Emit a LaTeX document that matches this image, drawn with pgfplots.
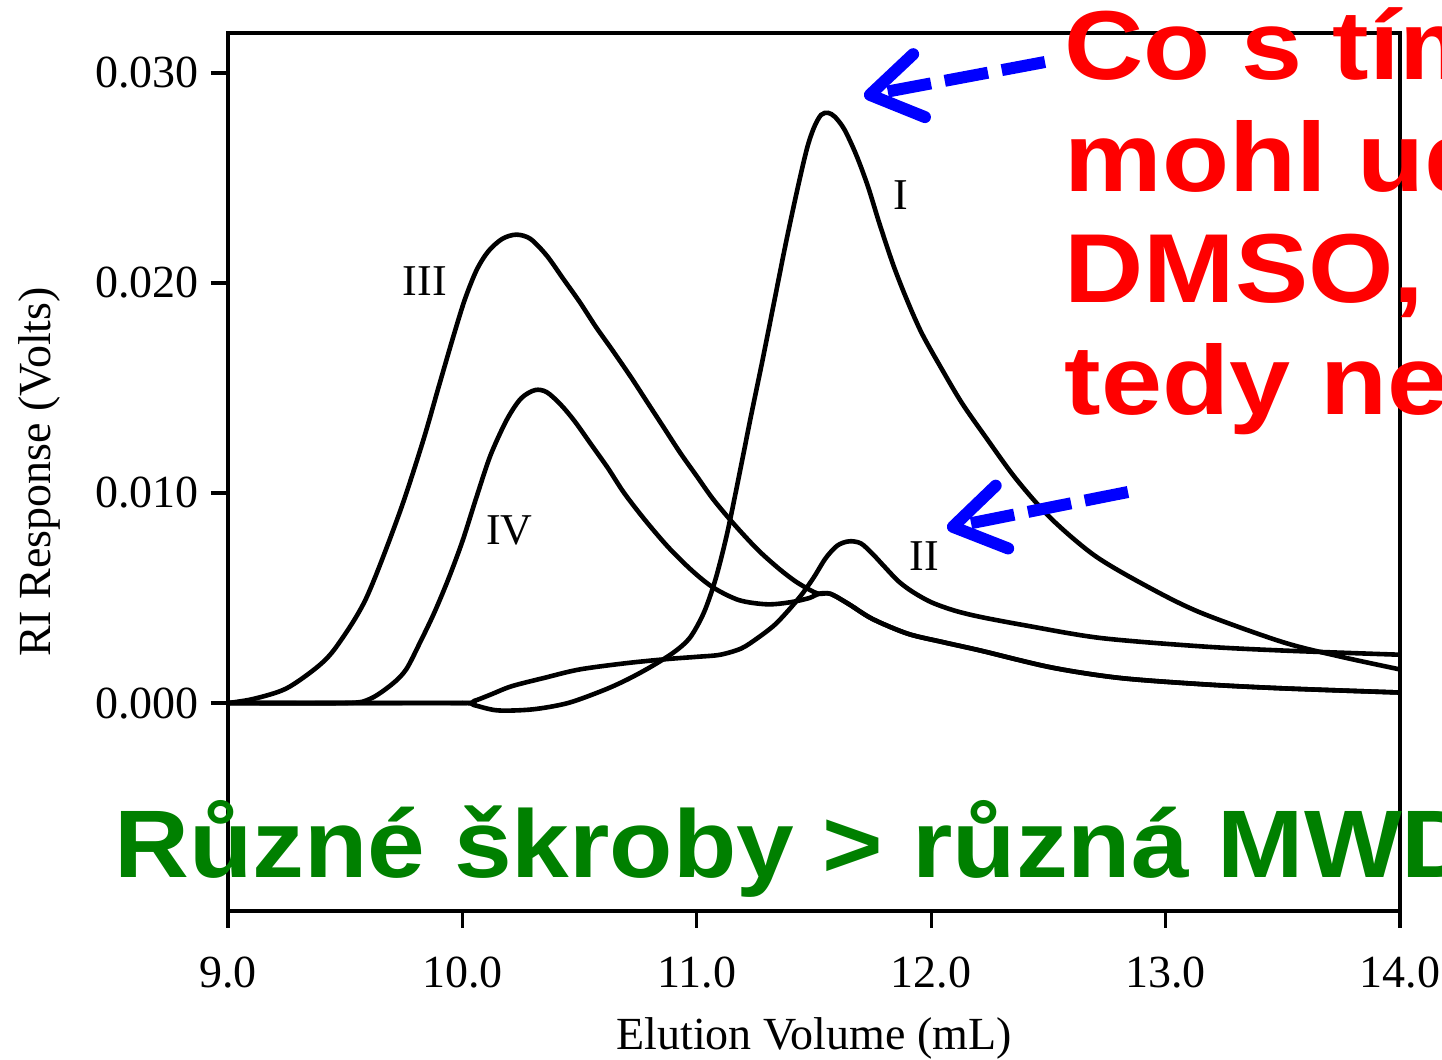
\documentclass[border=0pt]{standalone}
\usepackage{fontspec}
\setmainfont{Liberation Serif}
\newfontfamily\ovfont{Liberation Sans}
\usepackage{pgfplots}
\pgfplotsset{compat=1.18}
\usetikzlibrary{arrows.meta}
\definecolor{ovred}{RGB}{255,0,0}
\definecolor{ovgreen}{RGB}{0,128,0}
\definecolor{ovblue}{RGB}{0,0,255}

\pgfplotstableread{
x y
9.00 0
9.50 0
10.00 0
10.05 -0.0001
10.15 -0.00035
10.30 -0.0003
10.45 0.0000
10.60 0.0006
10.70 0.0011
10.80 0.0017
10.90 0.0024
10.97 0.0031
11.03 0.0043
11.08 0.0059
11.13 0.0081
11.18 0.0108
11.23 0.0136
11.28 0.0163
11.33 0.0191
11.38 0.0219
11.43 0.0245
11.47 0.0264
11.50 0.0274
11.53 0.0280
11.56 0.0281
11.59 0.0279
11.63 0.0273
11.68 0.0261
11.73 0.0246
11.78 0.0228
11.84 0.0208
11.90 0.0191
11.96 0.0176
12.04 0.0160
12.13 0.0143
12.23 0.0127
12.36 0.0107
12.51 0.0088
12.70 0.0070
12.93 0.0055
13.15 0.0043
13.50 0.0029
13.75 0.0022
14.00 0.0016
}\curveI

\pgfplotstableread{
x y
9.00 0
9.50 0
10.00 0
10.05 0.0001
10.12 0.0004
10.21 0.0008
10.35 0.0012
10.50 0.0016
10.70 0.0019
10.88 0.0021
11.00 0.0022
11.10 0.0023
11.19 0.0026
11.26 0.0031
11.33 0.0037
11.39 0.0044
11.45 0.0052
11.50 0.0060
11.55 0.0069
11.60 0.0075
11.65 0.0077
11.70 0.0076
11.75 0.0071
11.80 0.0065
11.86 0.0058
11.92 0.0053
12.00 0.0048
12.10 0.0044
12.21 0.0041
12.40 0.0037
12.72 0.0031
13.15 0.0027
13.50 0.0025
14.00 0.0023
}\curveII

\pgfplotstableread{
x y
9.00 0
9.11 0.0002
9.25 0.0007
9.39 0.0018
9.47 0.0028
9.59 0.0050
9.73 0.0090
9.83 0.0124
9.90 0.0151
9.96 0.0174
10.01 0.0192
10.06 0.0206
10.11 0.0215
10.17 0.0221
10.23 0.0223
10.29 0.0221
10.36 0.0213
10.43 0.0202
10.50 0.0191
10.57 0.0179
10.64 0.0168
10.72 0.0155
10.79 0.0143
10.86 0.0131
10.93 0.0119
11.00 0.0108
11.07 0.0097
11.16 0.0085
11.26 0.0073
11.35 0.0064
11.42 0.0058
11.48 0.0054
11.52 0.0052
11.57 0.0052
11.65 0.0047
11.75 0.0040
11.90 0.0033
12.05 0.0029
12.21 0.0025
12.51 0.0017
12.80 0.0012
13.15 0.0009
13.50 0.0007
14.00 0.0005
}\curveIII

\pgfplotstableread{
x y
9.00 0
9.50 0
9.606 0.0002
9.70 0.0009
9.76 0.0016
9.82 0.0029
9.88 0.0043
9.94 0.0059
10.00 0.0077
10.06 0.0098
10.12 0.0118
10.19 0.0135
10.25 0.0145
10.31 0.0149
10.36 0.0148
10.42 0.0142
10.48 0.0134
10.55 0.0123
10.62 0.0112
10.69 0.0100
10.78 0.0087
10.88 0.0074
10.98 0.0063
11.07 0.0055
11.18 0.0049
11.30 0.0047
11.40 0.0048
11.48 0.0050
11.52 0.0052
11.57 0.0052
11.65 0.0047
11.75 0.0040
11.90 0.0033
12.05 0.0029
12.21 0.0025
12.51 0.0017
12.80 0.0012
13.15 0.0009
13.50 0.0007
14.00 0.0005
}\curveIV

\begin{document}
\begin{tikzpicture}
\path[use as bounding box] (0,0) rectangle (721pt,530pt);
\begin{axis}[
  at={(114pt,74.5pt)}, anchor=south west,
  scale only axis, width=586pt, height=439pt,
  xmin=9, xmax=14, ymin=-0.0099, ymax=0.0319,
  xtick={9,10,11,12,13,14},
  xticklabels={9.0,10.0,11.0,12.0,13.0,14.0},
  ytick={0,0.01,0.02,0.03},
  yticklabels={0.000,0.010,0.020,0.030},
  scaled y ticks=false,
  tick pos=left, tick align=outside,
  major tick length=8.5pt,
  every tick/.style={black, line width=1.6pt},
  axis line style={line width=1.6pt},
  tick label style={font=\fontsize{23}{27}\selectfont, inner sep=0pt},
  xticklabel style={anchor=base, yshift=-30pt},
  yticklabel style={anchor=east, xshift=-6pt},
  label style={font=\fontsize{23}{27}\selectfont},
  xlabel={Elution Volume (mL)},
  ylabel={RI Response (Volts)},
  xlabel style={at={(axis description cs:0.5,0)}, anchor=base, yshift=-69.5pt, inner sep=0pt},
  ylabel style={at={(axis description cs:-0.161,0.5)}, anchor=center, inner sep=0pt},
  no markers,
]
\addplot[black, line width=2.3pt, smooth, tension=0.5] table[x=x,y=y] {\curveIV};
\addplot[black, line width=2.3pt, smooth, tension=0.5] table[x=x,y=y] {\curveIII};
\addplot[black, line width=2.3pt, smooth, tension=0.5] table[x=x,y=y] {\curveII};
\addplot[black, line width=2.3pt, smooth, tension=0.5] table[x=x,y=y] {\curveI};
\node[font=\fontsize{22}{26}\selectfont] at (axis cs:9.84,0.0201) {III};
\node[font=\fontsize{22}{26}\selectfont] at (axis cs:10.20,0.0082) {IV};
\node[font=\fontsize{22}{26}\selectfont] at (axis cs:11.87,0.0242) {I};
\node[font=\fontsize{22}{26}\selectfont] at (axis cs:11.97,0.0070) {II};
\end{axis}
\begin{scope}[x=0.5pt, y=-0.5pt, shift={(0pt,530pt)}]
  \begin{scope}[font=\ovfont\bfseries\fontsize{49}{56}\selectfont, text=ovred]
    \node[anchor=base west, inner sep=0pt, xscale=1.12] at (1064,80) {Co s tím};
    \node[anchor=base west, inner sep=0pt, xscale=1.12] at (1064,192) {mohl udělat};
    \node[anchor=base west, inner sep=0pt, xscale=1.12] at (1064,303) {DMSO, tak};
    \node[anchor=base west, inner sep=0pt, xscale=1.12] at (1064,415) {tedy nemá};
  \end{scope}
  \node[anchor=base west, inner sep=0pt, xscale=1.08, text=ovgreen, font=\ovfont\bfseries\fontsize{48}{56}\selectfont] at (114,878) {Různé škroby > různá MWD};
  \draw[ovblue, line width=6pt, dash pattern=on 22pt off 7pt,
        -{Straight Barb[length=25pt, width=32pt, round, line width=6pt]}] (1045,62) -- (864,96);
  \draw[ovblue, line width=6pt, dash pattern=on 22pt off 7pt,
        -{Straight Barb[length=25pt, width=32pt, round, line width=6pt]}] (1128,492) -- (947,528);
\end{scope}
\end{tikzpicture}
\end{document}
